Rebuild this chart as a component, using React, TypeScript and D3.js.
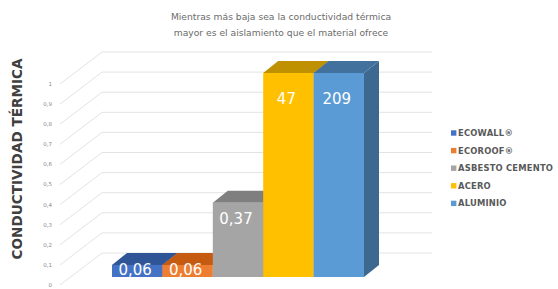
import React from 'react'
import * as d3 from 'd3'

// datos del gráfico
const materials = ['ECOWALL®', 'ECOROOF®', 'ASBESTO CEMENTO', 'ACERO', 'ALUMINIO']
const values = [0.06, 0.06, 0.37, 47, 209]
const valueLabels = ['0,06', '0,06', '0,37', '47', '209']
const yTicks = [0, 0.1, 0.2, 0.3, 0.4, 0.5, 0.6, 0.7, 0.8, 0.9, 1]
const yTickLabels = ['0', '0,1', '0,2', '0,3', '0,4', '0,5', '0,6', '0,7', '0,8', '0,9', '1']
const titleLines = ['Mientras más baja sea la conductividad térmica', 'mayor es el aislamiento que el material ofrece']

const frontColors = ['#4472C4', '#ED7D31', '#A5A5A5', '#FFC000', '#5B9BD5']
const topColors = ['#2F5597', '#C55A11', '#7F7F7F', '#BF9000', '#41719C']

const W = 558
const H = 289
const FONT = '"DejaVu Sans", sans-serif'

export default function App() {
  // pared del fondo (perspectiva)
  const wallDx = 42
  const wallDy = -32
  const yFront = d3.scaleLinear().domain([0, 1]).range([285, 84])

  // barras
  const x = d3.scaleBand<string>().domain(materials).range([112, 364]).padding(0)
  const yBar = d3.scaleLinear().domain([0, 1]).range([277, 76])
  const barDx = 15
  const barDy = -12
  const vMax = 1.015 // el eje corta las barras grandes

  return (
    <svg width={W} height={H} style={{ position: 'absolute', left: 0, top: 0, background: '#fff' }}>
      {/* título */}
      {titleLines.map((t, i) => (
        <text key={i} x={281} y={20 + i * 16} textAnchor="middle" fontFamily={FONT} fontSize={9.2} fill="#6b6b6b">
          {t}
        </text>
      ))}

      {/* título eje Y */}
      <text
        transform={`translate(22,159) rotate(-90)`}
        textAnchor="middle"
        fontFamily={FONT}
        fontWeight="bold"
        fontSize={13.6}
        fill="#404040"
      >
        CONDUCTIVIDAD TÉRMICA
      </text>

      {/* líneas de cuadrícula */}
      {yTicks.map((t, i) => {
        const y0 = yFront(t)
        return (
          <g key={i}>
            <path
              d={`M60,${y0} L${60 + wallDx},${y0 + wallDy} L432,${y0 + wallDy}`}
              fill="none"
              stroke="#e3e3e3"
              strokeWidth={1}
            />
            <text x={52} y={y0} dy="0.35em" textAnchor="end" fontFamily={FONT} fontSize={5.5} fill="#888">
              {yTickLabels[i]}
            </text>
          </g>
        )
      })}

      {/* barras 3D */}
      {materials.map((m, i) => {
        const x0 = x(m) ?? 0
        const x1 = x0 + x.bandwidth()
        const yb = yBar(0)
        const yt = yBar(Math.min(values[i], vMax))
        const side = d3.color(topColors[i])?.darker(0.2)?.toString() ?? topColors[i]
        return (
          <g key={m}>
            <path
              d={`M${x1},${yb} L${x1 + barDx},${yb + barDy} L${x1 + barDx},${yt + barDy} L${x1},${yt} Z`}
              fill={side}
            />
            <path
              d={`M${x0},${yt} L${x0 + barDx},${yt + barDy} L${x1 + barDx},${yt + barDy} L${x1},${yt} Z`}
              fill={topColors[i]}
            />
            <rect x={x0} y={yt} width={x1 - x0} height={yb - yt} fill={frontColors[i]} />
          </g>
        )
      })}

      {/* etiquetas de valor */}
      {materials.map((m, i) => {
        const cx = (x(m) ?? 0) + x.bandwidth() / 2
        const yt = yBar(Math.min(values[i], vMax))
        const cy = values[i] > vMax ? yt + 26 : Math.min(yt + 16, yBar(0) - 7)
        return (
          <text
            key={m}
            x={cx - 2}
            y={cy}
            dy="0.35em"
            textAnchor="middle"
            fontFamily={FONT}
            fontSize={15}
            fill="#fff"
          >
            {valueLabels[i]}
          </text>
        )
      })}

      {/* leyenda */}
      {materials.map((m, i) => (
        <g key={m} transform={`translate(451,${133 + i * 17.6})`}>
          <rect x={0} y={-2.7} width={5.4} height={5.4} fill={frontColors[i]} />
          <text
            x={7}
            y={0}
            dy="0.35em"
            fontFamily={FONT}
            fontWeight="bold"
            fontSize={8.4}
            letterSpacing={0.2}
            fill="#595959"
          >
            {m}
          </text>
        </g>
      ))}
    </svg>
  )
}
